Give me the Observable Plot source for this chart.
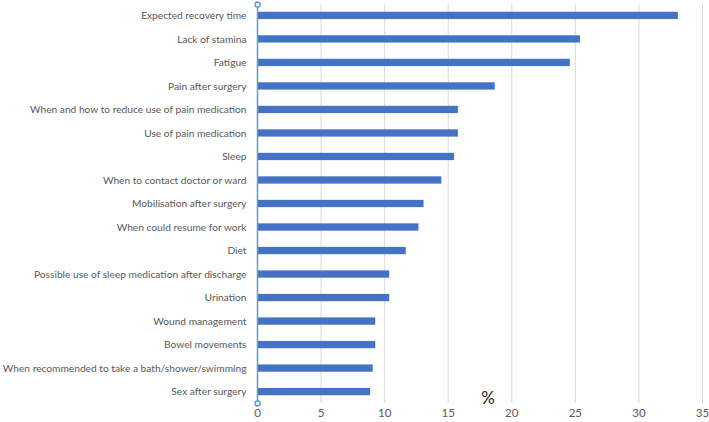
<!DOCTYPE html>
<html>
<head>
<meta charset="utf-8">
<script src="https://cdn.jsdelivr.net/npm/d3@7"></script>
<script src="https://cdn.jsdelivr.net/npm/@observablehq/plot@0.6"></script>
<style>
  html, body { margin: 0; padding: 0; background: #fff; }
  #chart svg { display: block; }
</style>
</head>
<body>
<div id="chart"></div>
<script>
const topics = [
  "Expected recovery time",
  "Lack of stamina",
  "Fatigue",
  "Pain after surgery",
  "When and how to reduce use of pain medication",
  "Use of pain medication",
  "Sleep",
  "When to contact doctor or ward",
  "Mobilisation after surgery",
  "When could resume for work",
  "Diet",
  "Possible use of sleep medication after discharge",
  "Urination",
  "Wound management",
  "Bowel movements",
  "When recommended to take a bath/shower/swimming",
  "Sex after surgery"
];
const percents = [33.1, 25.4, 24.6, 18.7, 15.8, 15.8, 15.5, 14.5, 13.1, 12.7, 11.7, 10.4, 10.4, 9.3, 9.3, 9.1, 8.9];
const xTicks = [0, 5, 10, 15, 20, 25, 30, 35];
const axisLabel = "%";

const data = topics.map((t, i) => ({topic: t, value: percents[i]}));
const font = "Lato, 'Noto Sans', sans-serif";

const chart = Plot.plot({
  width: 709,
  height: 422,
  marginLeft: 257,
  marginRight: 7,
  marginTop: 4,
  marginBottom: 19,
  style: {fontFamily: font, fontSize: "10.2px", color: "#595959", background: "#fff"},
  x: {domain: [0, 35], ticks: xTicks, label: null},
  y: {domain: topics, paddingInner: 0.69, paddingOuter: 0.33, round: false, label: null},
  marks: [
    Plot.gridX(xTicks.filter(d => d > 0), {stroke: "#d9d9d9", strokeOpacity: 1, strokeWidth: 1}),
    Plot.barX(data, {x: "value", y: "topic", fill: "#4472C4"}),
    Plot.ruleX([0], {stroke: "#5B9BD5", strokeWidth: 1.5}),
    Plot.dot([0], {x: d => d, frameAnchor: "top", r: 2.5, stroke: "#5B9BD5", strokeWidth: 1.5, fill: "#fff"}),
    Plot.dot([0], {x: d => d, frameAnchor: "bottom", r: 2.5, stroke: "#5B9BD5", strokeWidth: 1.5, fill: "#fff"}),
    Plot.axisY({tickSize: 0, tickPadding: 11, fontSize: 10.2, fill: "#595959"}),
    Plot.axisX({ticks: xTicks, tickSize: 0, tickPadding: 5, fontSize: 11.5, fill: "#595959", label: null}),
    Plot.text([axisLabel], {text: d => d, frameAnchor: "bottom", dx: 8, dy: -5, lineAnchor: "middle", fontSize: 17, fill: "#222"})
  ]
});
document.getElementById("chart").appendChild(chart);
</script>
</body>
</html>
